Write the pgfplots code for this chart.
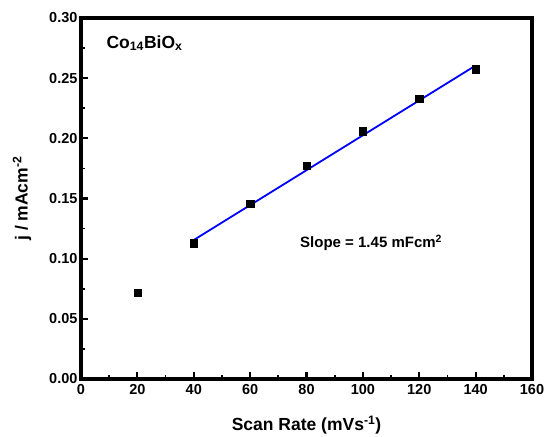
\documentclass[border=0pt]{standalone}
\usepackage{pgfplots}
\pgfplotsset{compat=1.18}
\usepackage{fontspec}
\setmainfont{Liberation Sans}
\begin{document}
\begin{tikzpicture}
\begin{axis}[
  scale only axis, width=451pt, height=361pt,
  xmin=0, xmax=160, ymin=0, ymax=0.30,
  xtick={0,20,...,160},
  ytick={0,0.05,0.10,0.15,0.20,0.25,0.30},
  minor x tick num=1, minor y tick num=1,
  tick align=inside, tick pos=left,
  major tick length=6.5pt, minor tick length=4pt,
  major tick style={black, line width=2.2pt},
  minor tick style={black, line width=1.8pt},
  /pgf/number format/assume math mode=true,
  ticklabel style={font=\bfseries\fontsize{14.5}{14.5}\selectfont},
  y tick label style={/pgf/number format/.cd, fixed, fixed zerofill, precision=2},
  x tick label style={yshift=-2pt},
  xlabel={\bfseries\fontsize{17.5}{18}\selectfont Scan Rate (mVs\textsuperscript{-1})},
  ylabel={\bfseries\fontsize{17.5}{18}\selectfont j / mAcm\textsuperscript{-2}},
  xlabel style={at={(axis description cs:0.5,0)}, anchor=center, yshift=-46pt},
  ylabel style={at={(axis description cs:0,0.5)}, anchor=center, yshift=59pt},
  clip=false,
]
\addplot[only marks, mark=square*, mark size=3.6pt, black] coordinates {
  (20,0.0715) (40,0.1128) (60,0.146) (80,0.177) (100,0.206) (120,0.233) (140,0.2574)
};
\addplot[blue, line width=1.8pt] coordinates {(40,0.1155) (140,0.2605)};
\draw[black, line width=3.6pt] (rel axis cs:0,0) rectangle (rel axis cs:1,1);
\node[anchor=west, inner sep=0pt, font=\bfseries\fontsize{17.5}{18}\selectfont] at (axis cs:9,0.279) {Co\textsubscript{14}BiO\textsubscript{x}};
\node[anchor=west, inner sep=0pt, font=\bfseries\fontsize{15}{15}\selectfont] at (axis cs:77.7,0.113) {Slope = 1.45 mFcm\textsuperscript{2}};
\end{axis}
\pgfresetboundingbox
\useasboundingbox ([shift={(-81pt,-58pt)}]current axis.south west) rectangle ([shift={(13pt,18pt)}]current axis.north east);
\end{tikzpicture}
\end{document}
